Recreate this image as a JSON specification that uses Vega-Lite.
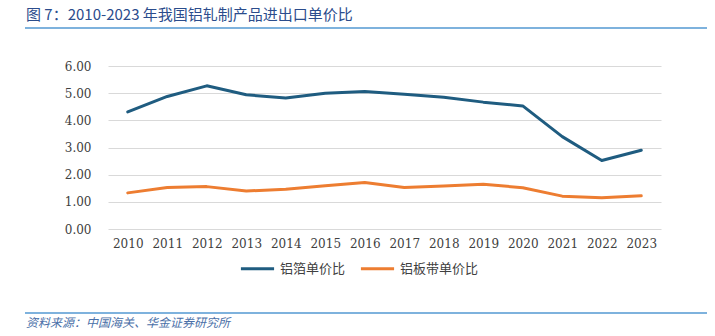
{
  "$schema": "https://vega.github.io/schema/vega-lite/v6.json",
  "padding": {"left": 25, "top": 7, "right": 5, "bottom": 5},
  "background": "white",
  "config": {"view": {"stroke": null}},
  "datasets": {
    "prices": [
      {"year": "2010", "series": "铝箔单价比", "value": 4.31},
      {"year": "2011", "series": "铝箔单价比", "value": 4.88},
      {"year": "2012", "series": "铝箔单价比", "value": 5.27},
      {"year": "2013", "series": "铝箔单价比", "value": 4.94},
      {"year": "2014", "series": "铝箔单价比", "value": 4.82},
      {"year": "2015", "series": "铝箔单价比", "value": 5.0},
      {"year": "2016", "series": "铝箔单价比", "value": 5.06},
      {"year": "2017", "series": "铝箔单价比", "value": 4.96},
      {"year": "2018", "series": "铝箔单价比", "value": 4.85},
      {"year": "2019", "series": "铝箔单价比", "value": 4.67},
      {"year": "2020", "series": "铝箔单价比", "value": 4.53},
      {"year": "2021", "series": "铝箔单价比", "value": 3.4},
      {"year": "2022", "series": "铝箔单价比", "value": 2.52},
      {"year": "2023", "series": "铝箔单价比", "value": 2.9},
      {"year": "2010", "series": "铝板带单价比", "value": 1.33},
      {"year": "2011", "series": "铝板带单价比", "value": 1.53},
      {"year": "2012", "series": "铝板带单价比", "value": 1.56},
      {"year": "2013", "series": "铝板带单价比", "value": 1.4},
      {"year": "2014", "series": "铝板带单价比", "value": 1.46},
      {"year": "2015", "series": "铝板带单价比", "value": 1.59},
      {"year": "2016", "series": "铝板带单价比", "value": 1.71},
      {"year": "2017", "series": "铝板带单价比", "value": 1.53},
      {"year": "2018", "series": "铝板带单价比", "value": 1.58},
      {"year": "2019", "series": "铝板带单价比", "value": 1.65},
      {"year": "2020", "series": "铝板带单价比", "value": 1.52},
      {"year": "2021", "series": "铝板带单价比", "value": 1.21},
      {"year": "2022", "series": "铝板带单价比", "value": 1.15},
      {"year": "2023", "series": "铝板带单价比", "value": 1.22}
    ]
  },
  "spacing": 30,
  "resolve": {"scale": {"color": "independent"}, "legend": {"color": "independent"}},
  "vconcat": [
    {
      "width": 680,
      "height": 0.01,
      "data": {"values": []},
      "mark": "point",
      "view": {"stroke": "#7EB2DD", "strokeWidth": 2},
      "title": {
        "text": "图 7：2010-2023 年我国铝轧制产品进出口单价比",
        "anchor": "start",
        "orient": "top",
        "offset": 5,
        "font": "Noto Sans CJK SC",
        "fontSize": 15,
        "fontWeight": "normal",
        "color": "#2B4C8C"
      }
    },
    {
      "bounds": "flush",
      "spacing": 81,
      "resolve": {"scale": {"color": "independent"}, "legend": {"color": "independent"}},
      "hconcat": [
        {
          "width": 1,
          "height": 1,
          "data": {"values": []},
          "mark": "point"
        },
        {
          "width": 553,
          "height": 163,
          "data": {"name": "prices"},
          "mark": {"type": "line", "strokeWidth": 3, "strokeCap": "round", "strokeJoin": "round"},
          "encoding": {
            "x": {
              "field": "year",
              "type": "ordinal",
              "scale": {"type": "point", "padding": 0.5},
              "axis": {
                "title": null,
                "labelAngle": 0,
                "ticks": false,
                "domain": false,
                "grid": false,
                "labelPadding": 9,
                "labelFont": "DejaVu Serif",
                "labelFontSize": 12,
                "labelColor": "#404040"
              }
            },
            "y": {
              "field": "value",
              "type": "quantitative",
              "scale": {"domain": [0, 6], "nice": false, "zero": true},
              "axis": {
                "title": null,
                "values": [0, 1, 2, 3, 4, 5, 6],
                "format": ".2f",
                "ticks": false,
                "domain": false,
                "gridColor": "#D9D9D9",
                "gridWidth": 1,
                "labelPadding": 17,
                "labelFont": "DejaVu Serif",
                "labelFontSize": 12,
                "labelColor": "#404040"
              }
            },
            "color": {
              "field": "series",
              "type": "nominal",
              "sort": ["铝箔单价比", "铝板带单价比"],
              "scale": {"domain": ["铝箔单价比", "铝板带单价比"], "range": ["#1F5C80", "#ED7D31"]},
              "legend": {
                "title": null,
                "orient": "none",
                "direction": "horizontal",
                "legendX": 125,
                "legendY": 178,
                "symbolType": "stroke",
                "symbolSize": 1100,
                "symbolStrokeWidth": 3,
                "labelFont": "Noto Sans CJK SC",
                "labelFontSize": 13,
                "labelColor": "#404040",
                "labelOffset": 4,
                "columnPadding": 8,
                "padding": 6
              }
            }
          }
        }
      ]
    },
    {
      "width": 680,
      "height": 0.01,
      "data": {"values": []},
      "mark": "point",
      "view": {"stroke": "#7EB2DD", "strokeWidth": 2},
      "title": {
        "text": "资料来源：中国海关、华金证券研究所",
        "anchor": "start",
        "orient": "bottom",
        "offset": 5,
        "font": "Noto Sans CJK SC",
        "fontSize": 12,
        "fontStyle": "italic",
        "fontWeight": "normal",
        "color": "#4A6FA8"
      }
    }
  ]
}
